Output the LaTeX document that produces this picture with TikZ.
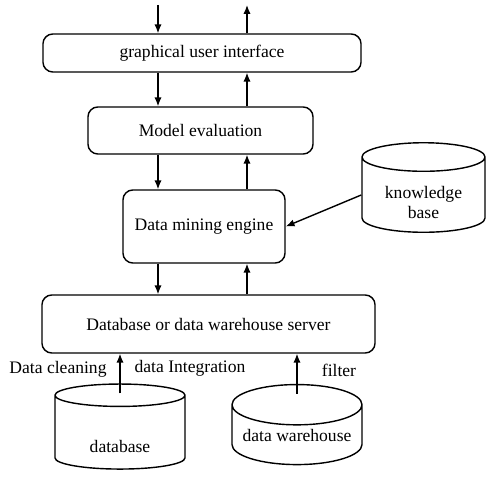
\documentclass[tikz,border=0pt]{standalone}
\usepackage{fontspec}
\setmainfont{Liberation Serif}
\usetikzlibrary{shapes.geometric,arrows.meta}

\begin{document}
\begin{tikzpicture}[x=0.025cm, y=-0.025cm,
    box/.style   = {draw, line width=1pt, rounded corners=7pt, align=center,
                    inner sep=0pt, font=\fontsize{12.5}{14}\selectfont},
    store/.style = {draw, line width=1pt, cylinder, shape border rotate=90,
                    aspect=0.37, align=center, inner sep=0pt,
                    font=\fontsize{12.5}{14}\selectfont},
    arr/.style   = {-{Latex[length=2.2mm,width=1.8mm]}, line width=1pt},
    lbl/.style   = {font=\fontsize{12.5}{14}\selectfont}
]
    \useasboundingbox (0,0) rectangle (487,477);

    %-- processing layers ----------------------------------------------------
    \node[box, minimum width=7.95cm,  minimum height=0.95cm]  (gui)    at (202,53)    {graphical user interface};
    \node[box, minimum width=5.625cm, minimum height=1.175cm] (eval)   at (200.5,130.5) {Model evaluation};
    \node[box, minimum width=4.05cm,  minimum height=1.825cm] (engine) at (204,226.5) {Data mining engine};
    \node[box, minimum width=8.325cm, minimum height=1.45cm]  (server) at (208.5,324) {Database or data warehouse server};

    %-- data stores (text height pushes the text low in the body) -----------
    \node[store, minimum width=3.075cm, minimum height=2.1cm, text height=1.15cm, text depth=0pt] (kb) at (423.5,195) {knowledge\\base};
    \node[store, minimum width=3.25cm,  minimum height=2.125cm, text height=1.0cm] (db) at (120,432.5) {database};
    \node[store, minimum width=3.25cm,  minimum height=2cm]     (dw) at (297,435)     {data warehouse};

    %-- free ends at the top -------------------------------------------------
    \coordinate (in)  at (158,5);
    \coordinate (out) at (247,5);

    %-- vertical flow --------------------------------------------------------
    \draw[arr] (in) -- (gui.north -| in);
    \draw[arr] (gui.north -| out) -- (out);
    \draw[arr] (gui.south -| in) -- (eval.north -| in);
    \draw[arr] (eval.north -| out) -- (gui.south -| out);
    \draw[arr] (eval.south -| in) -- (engine.north -| in);
    \draw[arr] (engine.north -| out) -- (eval.south -| out);
    \draw[arr] (engine.south -| in) -- (server.north -| in);
    \draw[arr] (server.north -| out) -- (engine.south -| out);

    %-- knowledge base and sources -------------------------------------------
    \draw[arr] (kb.west) -- (engine.east);
    \draw[arr] ([yshift=-0.25cm]db.top) -- (server.south -| db.top);
    \draw[arr] ([yshift=-0.25cm]dw.top) -- (server.south -| dw.top);

    \node[lbl] (clean) at (58,369)  {Data cleaning};
    \node[lbl] (integ) at (190,368) {data Integration};
    \node[lbl] (filt)  at (339,370) {filter};

\end{tikzpicture}
\end{document}
